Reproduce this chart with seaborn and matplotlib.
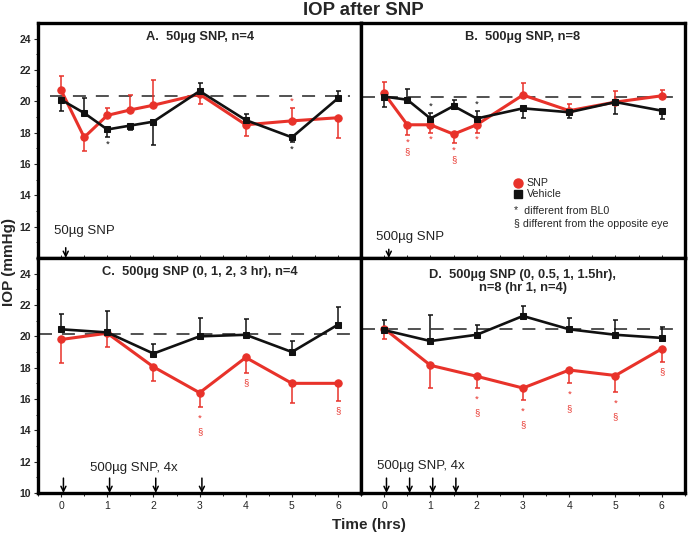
import matplotlib
matplotlib.use("Agg")
import matplotlib.pyplot as plt
import numpy as np
import pandas as pd
import seaborn as sns

# Data
T_AB = [0, 0.5, 1, 1.5, 2, 3, 4, 5, 6]
T_CD = [0, 1, 2, 3, 4, 5, 6]

# signed error: + drawn upward, - drawn downward
A_SNP = [20.7, 17.7, 19.1, 19.45, 19.75, 20.45, 18.5, 18.75, 18.95]
A_SNP_ERR = [0.9, -0.85, 0.5, 0.95, 1.6, -0.6, -0.7, 0.8, -1.3]
A_VEH = [20.1, 19.25, 18.2, 18.45, 18.7, 20.65, 18.8, 17.7, 20.2]
A_VEH_ERR = [-0.75, 0.95, -0.5, -0.3, -1.5, 0.5, 0.4, -0.3, 0.45]

B_SNP = [20.5, 18.5, 18.5, 17.9, 18.5, 20.4, 19.4, 19.95, 20.35]
B_SNP_ERR = [0.75, -0.65, -0.5, -0.55, -0.5, 0.75, 0.45, 0.7, 0.4]
B_VEH = [20.3, 20.1, 18.9, 19.7, 18.9, 19.55, 19.3, 19.95, 19.4]
B_VEH_ERR = [-0.65, 0.7, 0.35, 0.4, 0.45, -0.6, -0.35, -0.75, -0.5]

C_SNP = [19.8, 20.2, 18.05, 16.4, 18.65, 17.0, 17.0]
C_SNP_ERR = [-1.5, -0.85, -0.9, -0.9, -1.0, -1.25, -1.1]
C_VEH = [20.45, 20.25, 18.9, 20.0, 20.1, 19.0, 20.75]
C_VEH_ERR = [0.95, 1.35, 0.6, 1.2, 1.0, 0.7, 1.1]

D_SNP = [20.5, 18.15, 17.45, 16.7, 17.85, 17.5, 19.2]
D_SNP_ERR = [-0.7, -1.45, -0.75, -0.75, -0.85, -1.05, -0.85]
D_VEH = [20.4, 19.7, 20.1, 21.3, 20.45, 20.1, 19.9]
D_VEH_ERR = [0.65, 1.65, 0.6, 0.65, 0.7, 0.95, 0.7]

BASELINES = [20.35, 20.3, 20.14, 20.47]

# significance marks: (series, time, symbols)
A_MARKS = [("veh", 1, "*"), ("veh", 5, "*"), ("snp", 5, "*")]
B_MARKS = [("snp", 0.5, "*§"), ("snp", 1, "*"), ("snp", 1.5, "*§"), ("snp", 2, "*"),
           ("veh", 1, "*"), ("veh", 2, "*")]
C_MARKS = [("snp", 3, "*§"), ("snp", 4, "§"), ("snp", 6, "§")]
D_MARKS = [("snp", 2, "*§"), ("snp", 3, "*§"), ("snp", 4, "*§"), ("snp", 5, "*§"), ("snp", 6, "§")]

TITLES = ["A.  50µg SNP, n=4", "B.  500µg SNP, n=8", "C.  500µg SNP (0, 1, 2, 3 hr), n=4",
          "D.  500µg SNP (0, 0.5, 1, 1.5hr),\nn=8 (hr 1, n=4)"]
DOSE_LABELS = ["50µg SNP", "500µg SNP", "500µg SNP, 4x", "500µg SNP, 4x"]
DOSE_TIMES = [[0.1], [0.1], [0.05, 1.05, 2.05, 3.05], [0.05, 0.55, 1.05, 1.55]]

sns.set_theme(style="white")
plt.rcParams["font.family"] = ["Liberation Sans", "DejaVu Sans"]
RED = "#e8322a"
BLACK = "#111111"

fig = plt.figure(figsize=(6.89, 5.34), dpi=100)
axA = fig.add_axes([0.0552, 0.517, 0.469, 0.440])
axB = fig.add_axes([0.524, 0.517, 0.470, 0.440])
axC = fig.add_axes([0.0552, 0.0768, 0.469, 0.440])
axD = fig.add_axes([0.524, 0.0768, 0.470, 0.440])

panels = [
    (axA, T_AB, A_SNP, A_SNP_ERR, A_VEH, A_VEH_ERR, A_MARKS),
    (axB, T_AB, B_SNP, B_SNP_ERR, B_VEH, B_VEH_ERR, B_MARKS),
    (axC, T_CD, C_SNP, C_SNP_ERR, C_VEH, C_VEH_ERR, C_MARKS),
    (axD, T_CD, D_SNP, D_SNP_ERR, D_VEH, D_VEH_ERR, D_MARKS),
]
dash_start = [-0.25, -0.48, -0.48, -0.48]
dose_text_x = [-0.15, -0.17, 0.63, -0.15]
dose_text_y = [11.75, 11.35, 11.6, 11.7]
arrow_len = [0.65, 0.55, 0.95, 0.95]


def draw_series(ax, t, vals, err, color, marker, lw, ms):
    err = np.array(err)
    lower = np.where(err < 0, -err, 0)
    upper = np.where(err > 0, err, 0)
    ax.errorbar(t, vals, yerr=[lower, upper], fmt="none", ecolor=color,
                elinewidth=1.1, capsize=1.8, capthick=1.1, zorder=2)
    df = pd.DataFrame({"t": t, "iop": vals})
    sns.lineplot(data=df, x="t", y="iop", ax=ax, color=color, marker=marker,
                 markersize=ms, markeredgecolor=color, linewidth=lw, zorder=3)


for i, (ax, t, snp, snp_err, veh, veh_err, marks) in enumerate(panels):
    top_row = i < 2
    ax.hlines(BASELINES[i], dash_start[i], 6.25, colors="#222222", linewidth=1.1,
              linestyles=(0, (8.5, 6.5)), zorder=1)
    draw_series(ax, t, snp, snp_err, RED, "o", 2.2, 5.3)
    draw_series(ax, t, veh, veh_err, BLACK, "s", 1.9, 5)

    series = {"snp": (snp, snp_err, RED), "veh": (veh, veh_err, BLACK)}
    for key, tm, syms in marks:
        vals, err, col = series[key]
        k = t.index(tm)
        end = vals[k] + err[k]
        sgn = 1 if err[k] > 0 else -1
        offs = [5, 12] if top_row else [8, 18]
        if syms == "§":
            offs = [7]
        for j, s in enumerate(syms):
            ax.annotate(s, xy=(tm, end), xytext=(0, sgn * offs[j]), textcoords="offset points",
                        ha="center", va="center", fontsize=6.8, color=col)

    for d in DOSE_TIMES[i]:
        ax.annotate("", xy=(d, 10.0), xytext=(d, 10.0 + arrow_len[i]),
                    arrowprops=dict(arrowstyle="->", lw=1.1, color="black",
                                    shrinkA=0, shrinkB=0, mutation_scale=9))
    ax.text(dose_text_x[i], dose_text_y[i], DOSE_LABELS[i], fontsize=9.5,
            ha="left", va="center", color="#222222")

    ax.text(0.5, 0.94 if i != 3 else 0.90, TITLES[i], transform=ax.transAxes,
            ha="center", va="center", fontsize=9.3, fontweight="bold",
            linespacing=1.15)

    ax.set_xlim(-0.5, 6.5)
    ax.set_ylim(10, 25)
    ax.set_xlabel("")
    ax.set_ylabel("")
    for sp in ax.spines.values():
        sp.set_visible(True)
        sp.set_linewidth(2.4)
        sp.set_color("black")

    ax.set_xticks(range(0, 7))
    ax.set_xticks(np.arange(-0.5, 6.6, 0.5), minor=True)
    if top_row:
        ax.tick_params(axis="x", which="both", direction="in", bottom=True,
                       labelbottom=False, length=2, width=0.7)
    else:
        ax.tick_params(axis="x", which="major", direction="out", bottom=True,
                       length=3, width=0.8, labelsize=7.5, pad=3)
        ax.tick_params(axis="x", which="minor", direction="out", bottom=True,
                       length=2, width=0.7)

    if i in (0, 2):
        ax.set_yticks(range(12 if top_row else 10, 25, 2))
        ax.set_yticks(range(10, 25), minor=True)
        ax.tick_params(axis="y", which="major", direction="out", left=True,
                       length=3, width=0.8, labelsize=7.5, pad=2)
        ax.tick_params(axis="y", which="minor", direction="out", left=True,
                       length=1.5, width=0.7)
        for lab in ax.get_yticklabels():
            lab.set_fontweight("bold")
    else:
        ax.set_yticks([])

# Legend drawn inside panel B
axB.plot([0.485], [0.319], "o", color=RED, markersize=6.5, transform=axB.transAxes)
axB.plot([0.485], [0.272], "s", color=BLACK, markersize=5.5, transform=axB.transAxes)
axB.text(0.512, 0.319, "SNP", transform=axB.transAxes, fontsize=7.7, va="center")
axB.text(0.512, 0.272, "Vehicle", transform=axB.transAxes, fontsize=7.7, va="center")
axB.text(0.472, 0.200, "*  different from BL0", transform=axB.transAxes, fontsize=7.7, va="center")
axB.text(0.472, 0.145, "§ different from the opposite eye", transform=axB.transAxes,
         fontsize=7.7, va="center")

fig.text(0.528, 0.980, "IOP after SNP", ha="center", va="center", fontsize=13.4,
         fontweight="bold")
fig.text(0.013, 0.51, "IOP (mmHg)", ha="center", va="center", rotation=90,
         fontsize=11, fontweight="bold")
fig.text(0.535, 0.017, "Time (hrs)", ha="center", va="center", fontsize=11,
         fontweight="bold")

fig.savefig("out.png", dpi=100)
